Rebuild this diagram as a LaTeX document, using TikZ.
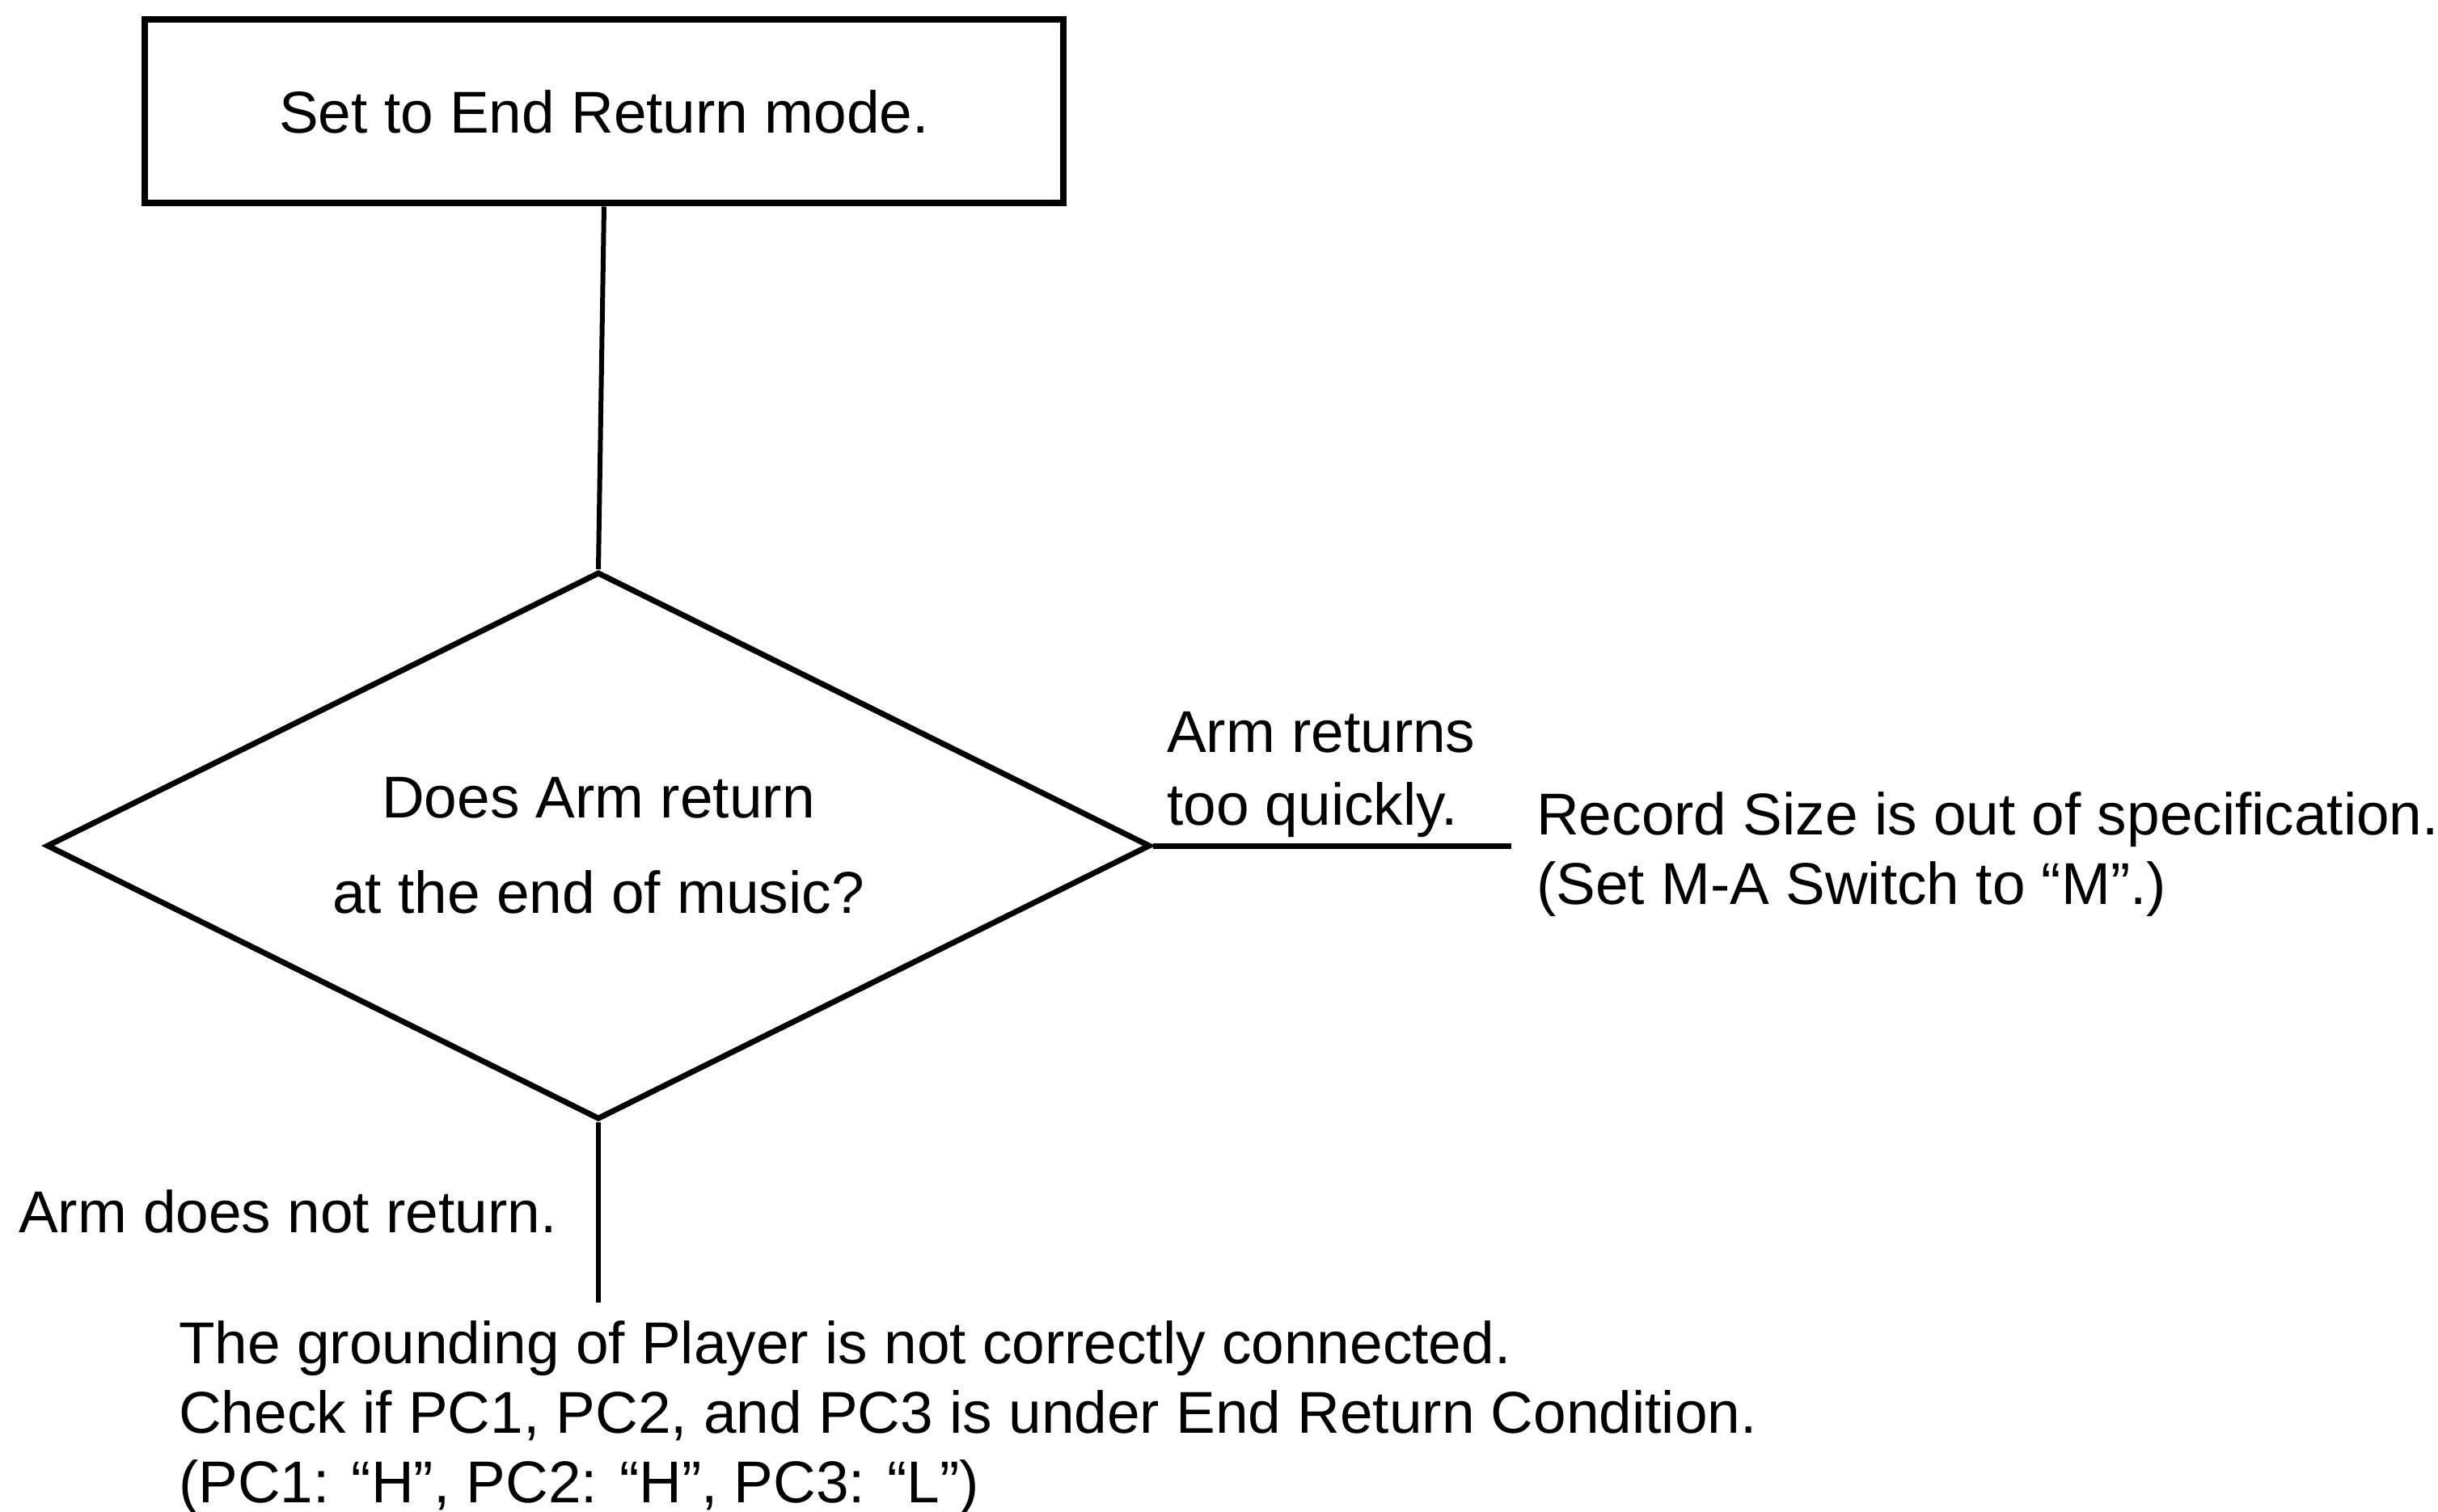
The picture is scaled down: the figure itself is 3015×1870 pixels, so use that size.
\documentclass[tikz,border=0pt]{standalone}
\usepackage{fontspec}
\setmainfont{Liberation Sans}
\usetikzlibrary{shapes.geometric}
\begin{document}
\begin{tikzpicture}[x=1pt,y=-1pt,
  lbl/.style={inner sep=0pt, anchor=base west, align=left},
  fs/.style={font=\fontsize{73}{#1}\selectfont},
  conn/.style={line width=6pt}]
\useasboundingbox (0,0) rectangle (3015,1870);
\node[draw, line width=8pt, minimum width=1136pt, minimum height=227pt, inner sep=0pt, fs=84] (start) at (747,138) {Set to End Return mode.};
\node[diamond, draw, line width=7pt, minimum width=1365pt, minimum height=677pt, aspect=2.016, inner sep=0pt, align=center, fs=118] (dec) at (740,1046) {Does Arm return\\at the end of music?};
\coordinate (rend) at (1869,1046);
\coordinate (bend) at (740,1611);
\draw[conn] (start.south) -- (dec.north);
\draw[conn, line width=7pt] (dec.east) -- (rend);
\draw[conn] (dec.south) -- (bend);
\node[lbl, fs=90] (quick) at (1443,1020) {Arm returns\\too quickly.};
\node[lbl, fs=86] (size) at (1900,1118) {Record Size is out of specification.\\(Set M-A Switch to ``M''.)};
\node[lbl, fs=86] (noret) at (23,1524) {Arm does not return.};
\node[lbl, fs=86] (ground) at (221,1858) {The grounding of Player is not correctly connected.\\Check if PC1, PC2, and PC3 is under End Return Condition.\\(PC1: ``H'', PC2: ``H'', PC3: ``L'')};
\end{tikzpicture}
\end{document}
